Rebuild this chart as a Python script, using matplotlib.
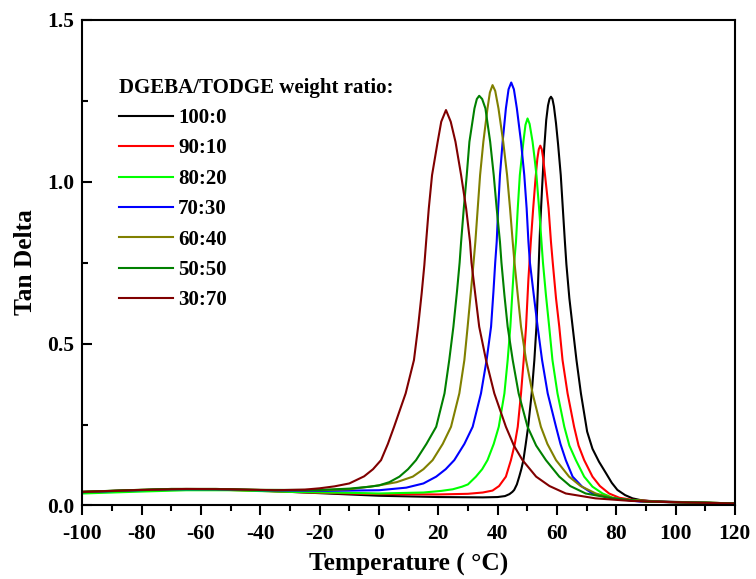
import matplotlib
matplotlib.use("Agg")
import matplotlib.pyplot as plt
from matplotlib.ticker import MultipleLocator, FormatStrFormatter

plt.rcParams['font.family'] = ['Liberation Serif', 'DejaVu Serif']
plt.rcParams['font.weight'] = 'bold'
plt.rcParams['axes.unicode_minus'] = False

labels = ["100:0", "90:10", "80:20", "70:30", "60:40", "50:50", "30:70"]
colors = ["#000000", "#ff0000", "#00ff00", "#0000ff", "#808000", "#008000", "#800000"]

# 100:0
t_100_0 = [-100, -85, -70, -55, -40, -20, 0, 20, 35, 40, 42.5, 44, 45, 45.6, 46.5, 47.3, 48.0, 48.7,
           49.5, 50.3, 51.5, 52.4, 53.1, 53.7, 54.3, 55.0, 55.7, 56.4, 57.0, 57.5, 58.0, 58.5, 59.0,
           59.7, 60.4, 61.3, 62.0, 62.7, 63.2, 64.2, 65.3, 66.6, 68.1, 70.2, 72.0, 74.2, 76.6, 78.5,
           80.4, 83, 85.5, 88, 91, 100, 110, 120]
v_100_0 = [0.042, 0.046, 0.050, 0.050, 0.046, 0.038, 0.030, 0.026, 0.025, 0.026, 0.029, 0.035, 0.042,
           0.048, 0.065, 0.089, 0.112, 0.140, 0.190, 0.243, 0.346, 0.449, 0.552, 0.700, 0.850, 0.980,
           1.100, 1.190, 1.235, 1.255, 1.262, 1.255, 1.232, 1.180, 1.115, 1.020, 0.917, 0.814, 0.745,
           0.640, 0.552, 0.449, 0.346, 0.228, 0.175, 0.135, 0.099, 0.070, 0.048, 0.032, 0.022, 0.017,
           0.014, 0.011, 0.009, 0.006]

# 90:10
t_90_10 = [-100, -85, -70, -55, -40, -20, 0, 20, 30, 35, 38.3, 40.5, 42.8, 44.5, 45.8, 46.8, 47.9,
           48.8, 49.6, 50.4, 51.2, 52.0, 52.8, 53.4, 53.9, 54.4, 54.9, 55.4, 56.0, 57.2, 58.0, 58.6,
           59.7, 60.8, 61.9, 63.6, 65.8, 67.3, 69.2, 72.0, 74.5, 77.6, 81, 85, 95, 110, 120]
v_90_10 = [0.040, 0.045, 0.049, 0.049, 0.045, 0.039, 0.035, 0.034, 0.036, 0.040, 0.046, 0.060, 0.089,
           0.140, 0.190, 0.243, 0.346, 0.449, 0.552, 0.700, 0.814, 0.917, 1.010, 1.070, 1.100, 1.111,
           1.100, 1.070, 1.020, 0.917, 0.814, 0.750, 0.640, 0.552, 0.449, 0.346, 0.243, 0.185, 0.140,
           0.089, 0.060, 0.037, 0.024, 0.018, 0.011, 0.009, 0.006]

# 80:20
t_80_20 = [-100, -80, -65, -50, -30, -10, 0, 15, 21, 24.9, 28, 30, 32.7, 34.8, 36.6, 38.7, 40.4, 42.3,
           43.4, 44.3, 45.0, 45.6, 46.2, 46.8, 47.5, 48.7, 49.4, 50.1, 50.8, 51.8, 52.5, 53.1, 54.0,
           54.8, 55.3, 56.3, 57.4, 58.5, 60.2, 62.5, 64.2, 66.4, 69.2, 72, 75.4, 78.5, 82, 95, 110, 120]
v_80_20 = [0.037, 0.043, 0.047, 0.047, 0.042, 0.039, 0.037, 0.040, 0.045, 0.050, 0.058, 0.065, 0.089,
           0.112, 0.140, 0.190, 0.243, 0.346, 0.449, 0.552, 0.660, 0.750, 0.814, 0.917, 1.020, 1.123,
           1.175, 1.195, 1.178, 1.123, 1.070, 1.020, 0.917, 0.814, 0.750, 0.650, 0.552, 0.449, 0.346,
           0.243, 0.185, 0.140, 0.089, 0.058, 0.037, 0.025, 0.018, 0.011, 0.009, 0.006]

# 70:30
t_70_30 = [-100, -85, -70, -55, -40, -20, 0, 9.2, 15, 19.3, 22.5, 25.4, 28.8, 31.6, 34.4, 36.3, 37.8,
           38.6, 39.2, 39.7, 40.2, 40.8, 41.7, 42.8, 43.7, 44.6, 45.5, 46.5, 47.9, 49.0, 49.8, 50.4,
           50.9, 52.2, 53.5, 55.0, 56.9, 59.7, 61.2, 63.0, 65.3, 68.5, 72, 78.7, 88, 100, 110, 120]
v_70_30 = [0.041, 0.046, 0.050, 0.050, 0.047, 0.045, 0.047, 0.055, 0.068, 0.089, 0.112, 0.140, 0.190,
           0.243, 0.346, 0.449, 0.552, 0.660, 0.750, 0.814, 0.917, 1.020, 1.123, 1.226, 1.285, 1.306,
           1.285, 1.226, 1.123, 1.020, 0.917, 0.814, 0.750, 0.650, 0.552, 0.449, 0.346, 0.243, 0.190,
           0.140, 0.089, 0.058, 0.037, 0.022, 0.012, 0.010, 0.008, 0.006]

# 60:40
t_60_40 = [-100, -85, -70, -55, -40, -20, -10, 0, 6, 11.4, 15, 18.1, 21.5, 24.3, 27.1, 28.8, 29.9,
           31.0, 31.9, 32.5, 33.3, 34.1, 35.2, 36.6, 37.4, 38.3, 39.2, 40.3, 41.9, 43.2, 44.2, 45.1,
           45.7, 46.8, 47.9, 49.6, 51.8, 54.6, 56.8, 59.7, 64.1, 68, 73.1, 80, 90, 100, 120]
v_60_40 = [0.042, 0.047, 0.051, 0.051, 0.048, 0.047, 0.050, 0.062, 0.072, 0.089, 0.112, 0.140, 0.190,
           0.243, 0.346, 0.449, 0.552, 0.660, 0.750, 0.814, 0.917, 1.020, 1.123, 1.226, 1.275, 1.298,
           1.280, 1.226, 1.123, 1.020, 0.917, 0.814, 0.750, 0.650, 0.552, 0.449, 0.346, 0.243, 0.190,
           0.140, 0.089, 0.060, 0.037, 0.020, 0.012, 0.010, 0.006]

# 50:50
t_50_50 = [-100, -85, -70, -55, -40, -20, -10, -3, 0, 3.5, 6.9, 9.8, 12.5, 16, 19.3, 22.1, 23.7, 25.1,
           26.3, 27.2, 27.7, 28.6, 29.6, 30.5, 32.2, 33.0, 33.8, 34.8, 35.9, 37.5, 38.7, 39.7, 40.8,
           41.3, 42.3, 43.4, 45.1, 47.1, 50.1, 53, 56.3, 60.8, 64.5, 69.7, 78.7, 90, 100, 120]
v_50_50 = [0.042, 0.047, 0.051, 0.051, 0.048, 0.048, 0.052, 0.058, 0.062, 0.072, 0.089, 0.112, 0.140,
           0.190, 0.243, 0.346, 0.449, 0.552, 0.660, 0.750, 0.814, 0.917, 1.020, 1.123, 1.226, 1.255,
           1.265, 1.255, 1.226, 1.123, 1.020, 0.917, 0.814, 0.750, 0.650, 0.552, 0.449, 0.346, 0.243,
           0.185, 0.140, 0.089, 0.060, 0.037, 0.022, 0.012, 0.010, 0.006]

# 30:70
t_30_70 = [-100, -80, -65, -50, -35, -25, -20, -15, -10, -5, -2, 0.7, 3, 5.1, 9.0, 11.8, 13.2, 14.4,
           15.3, 15.9, 16.8, 17.9, 19.8, 21.0, 22.6, 24.2, 25.8, 27.7, 29.4, 30.7, 31.2, 32.5, 33.8,
           36.1, 38.9, 42.8, 45.5, 48.4, 53, 57.5, 63, 73, 85, 100, 120]
v_30_70 = [0.042, 0.048, 0.051, 0.050, 0.047, 0.049, 0.053, 0.059, 0.068, 0.090, 0.112, 0.140, 0.190,
           0.243, 0.346, 0.449, 0.552, 0.655, 0.742, 0.814, 0.917, 1.020, 1.123, 1.185, 1.221, 1.185,
           1.123, 1.020, 0.917, 0.814, 0.750, 0.650, 0.552, 0.449, 0.346, 0.243, 0.185, 0.140, 0.089,
           0.060, 0.037, 0.022, 0.014, 0.010, 0.006]

series_t = [t_100_0, t_90_10, t_80_20, t_70_30, t_60_40, t_50_50, t_30_70]
series_v = [v_100_0, v_90_10, v_80_20, v_70_30, v_60_40, v_50_50, v_30_70]

fig = plt.figure(figsize=(7.56, 5.79), dpi=100)
ax = fig.add_axes([0.109, 0.127, 0.863, 0.839])

for t, v, c, lab in zip(series_t, series_v, colors, labels):
    ax.plot(t, v, color=c, lw=1.5, label=lab, solid_joinstyle='round')

ax.set_xlim(-100, 120)
ax.set_ylim(0, 1.5)
ax.xaxis.set_major_locator(MultipleLocator(20))
ax.xaxis.set_minor_locator(MultipleLocator(10))
ax.yaxis.set_major_locator(MultipleLocator(0.5))
ax.yaxis.set_minor_locator(MultipleLocator(0.25))
ax.tick_params(axis='x', which='major', direction='out', length=7, width=1.5, labelsize=15.5, pad=6)
ax.tick_params(axis='x', which='minor', direction='out', length=4, width=1.5)
ax.tick_params(axis='y', which='major', direction='in', length=7, width=1.5, labelsize=15.5, pad=6)
ax.tick_params(axis='y', which='minor', direction='in', length=4, width=1.5)
for s in ax.spines.values():
    s.set_linewidth(1.5)
ax.yaxis.set_major_formatter(FormatStrFormatter('%.1f'))
for lbl in ax.get_xticklabels() + ax.get_yticklabels():
    lbl.set_fontweight('bold')

ax.set_xlabel("Temperature ( °C)", fontsize=18.3, fontweight='bold', labelpad=7)
ax.set_ylabel("Tan Delta", fontsize=18.3, fontweight='bold', labelpad=7)

leg = ax.legend(title="DGEBA/TODGE weight ratio:", loc='upper left', bbox_to_anchor=(0.043, 0.898),
                frameon=False, fontsize=15, title_fontsize=15, alignment='left',
                handlelength=2.6, handletextpad=0.25, labelspacing=0.5, borderaxespad=0)
leg.get_title().set_fontweight('bold')
for txt in leg.get_texts():
    txt.set_fontweight('bold')

fig.savefig("out.png", dpi=100)
